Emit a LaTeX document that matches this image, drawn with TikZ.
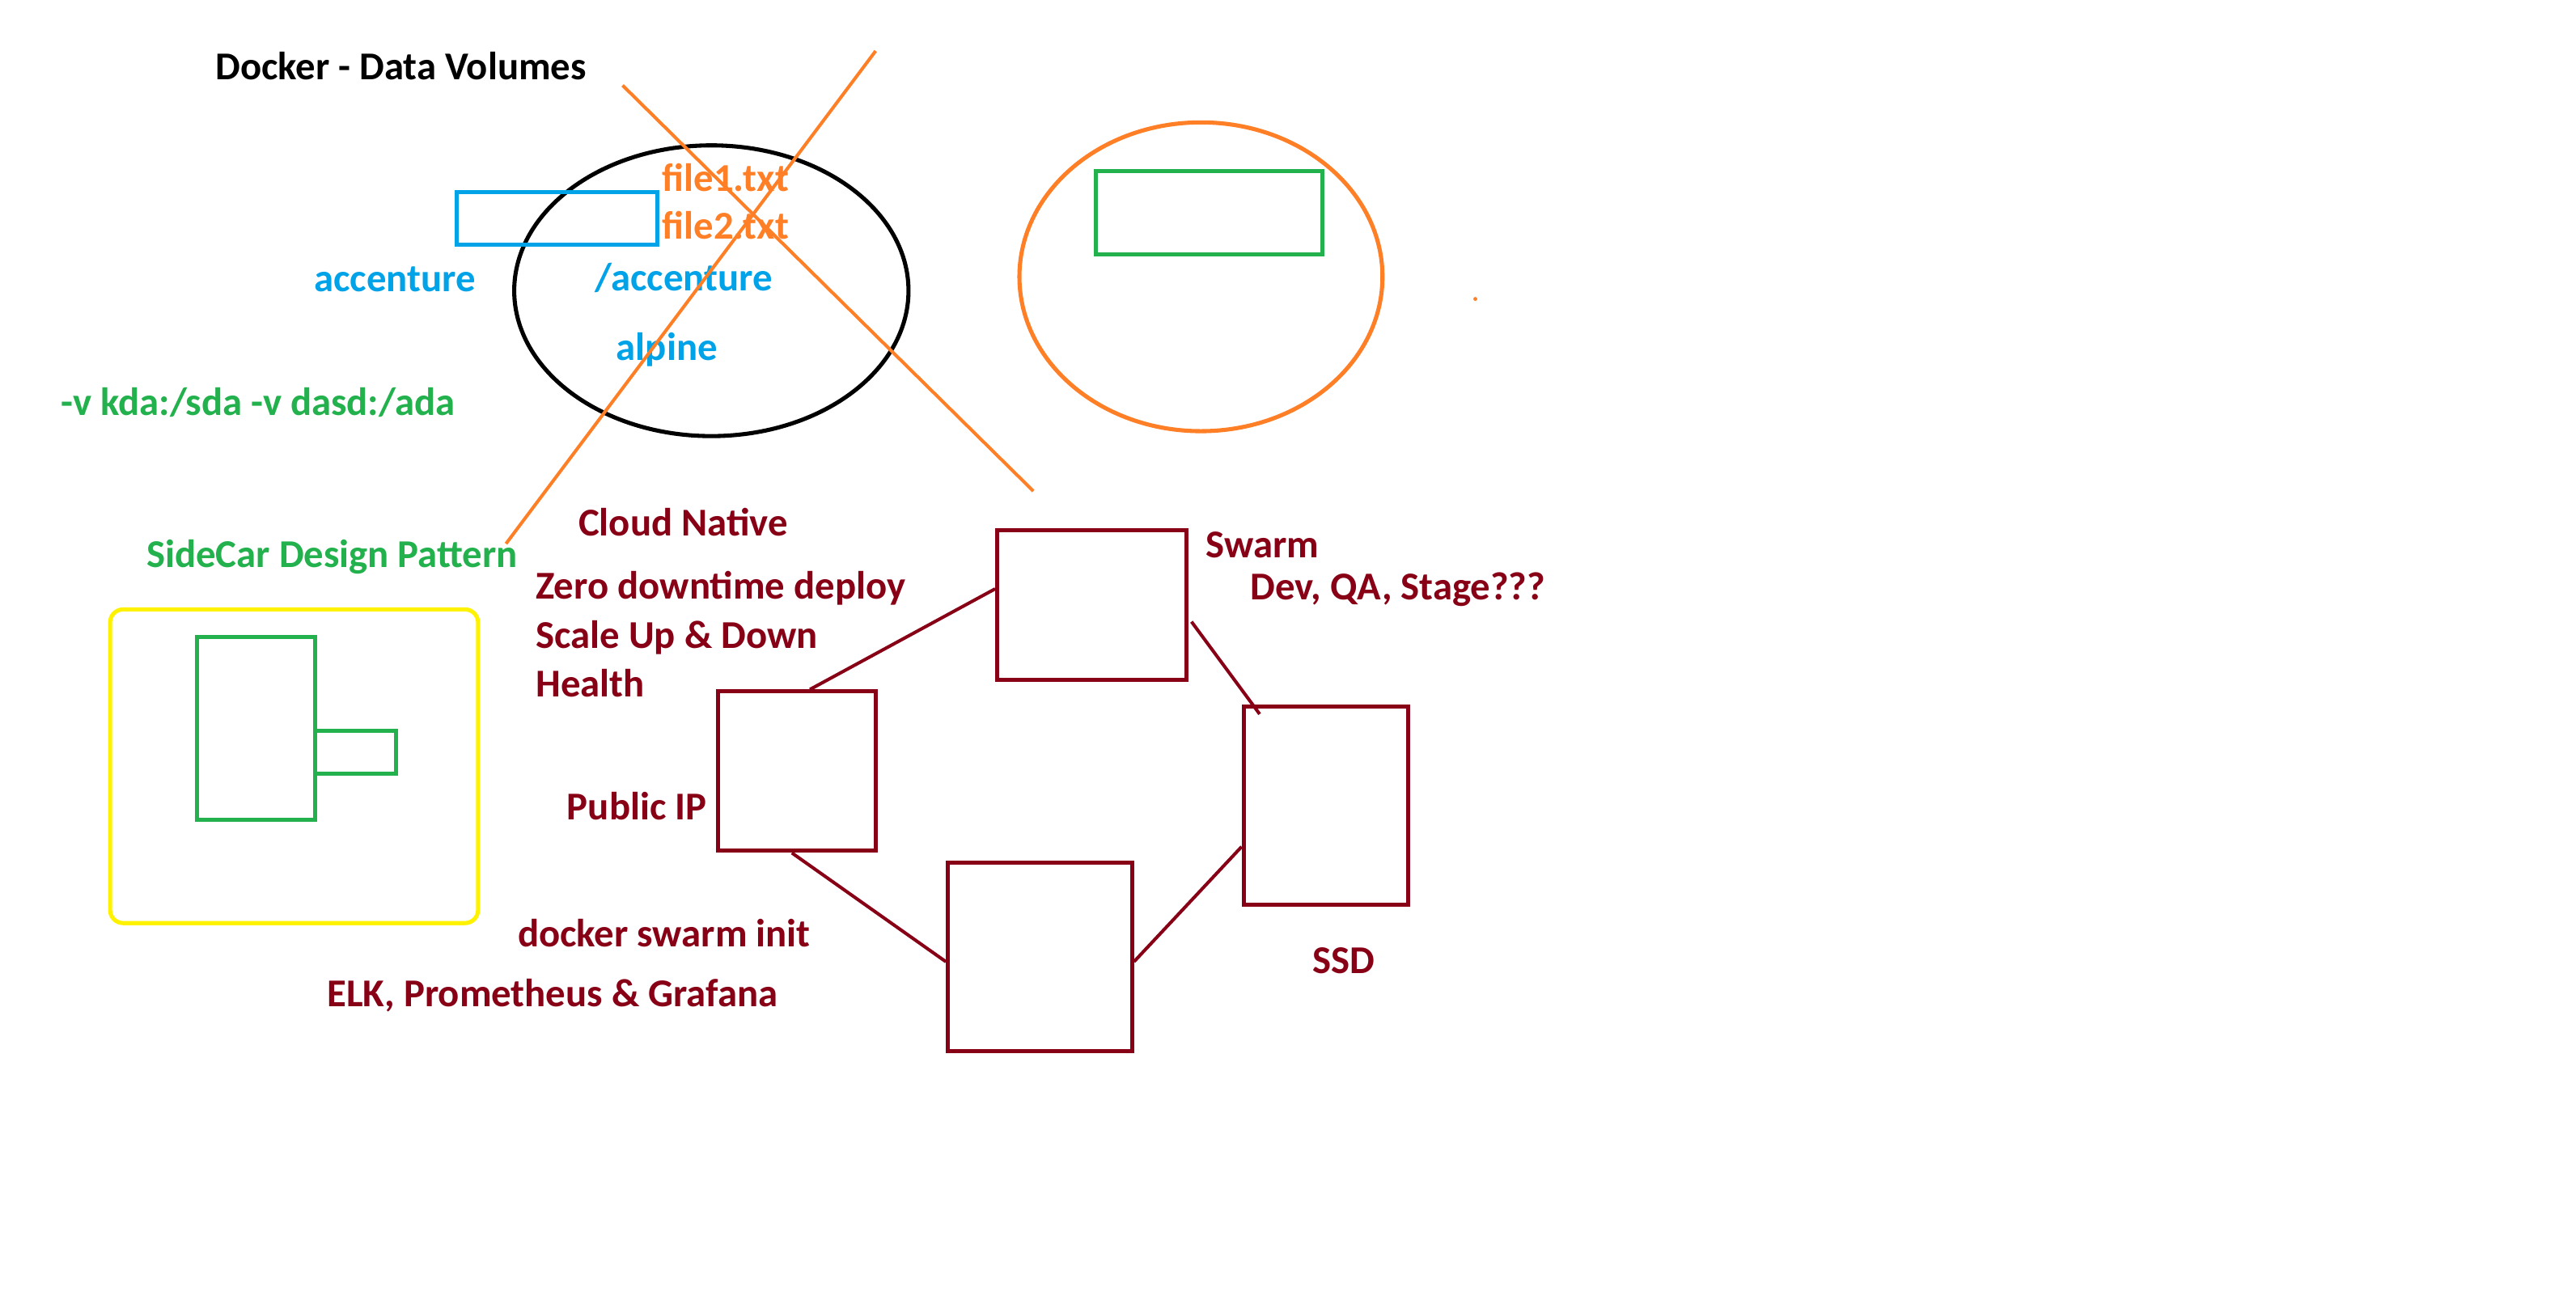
\documentclass[tikz,border=0pt]{standalone}
\usepackage{fontspec}
\setmainfont{Carlito}
\usepackage{tikz}
\usetikzlibrary{shapes.geometric}
\definecolor{paintred}{RGB}{136,0,21}
\definecolor{paintblue}{RGB}{0,162,232}
\definecolor{paintgreen}{RGB}{34,177,76}
\definecolor{paintorange}{RGB}{255,127,39}
\definecolor{paintyellow}{RGB}{255,242,0}

\begin{document}
\begin{tikzpicture}[x=1pt,y=-1pt]
\tikzstyle{every node}+=[inner sep=0pt]
\tikzstyle{lbl}=[anchor=west, font=\fontsize{24}{28}\selectfont\bfseries]
\tikzstyle{box}=[draw=paintred, line width=2.5pt]
\tikzstyle{link}=[paintred, line width=2pt]
\fill [white] (0,0) rectangle (1568,788);
\useasboundingbox (0,0) rectangle (1568,788);
% data volumes
\node [lbl, black] (title) at (131,40) {Docker - Data Volumes};
\node [ellipse, draw=black, line width=2.5pt, minimum width=240pt, minimum height=177pt] (cont) at (433,177) {};
\node [draw=paintblue, line width=2.5pt, minimum width=122pt, minimum height=32pt] (mount) at (339,133) {};
\node [lbl, paintorange] (file1) at (403,108) {file1.txt};
\node [lbl, paintorange] (file2) at (403,137) {file2.txt};
\node [lbl, paintblue] (host) at (191,170) {accenture};
\node [lbl, paintblue] (path) at (362,169) {/accenture};
\node [lbl, paintblue] (alpine) at (375,213) {alpine};
\node [lbl, paintgreen] (flags) at (37,245) {-v kda:/sda -v dasd:/ada};
\coordinate (xa) at (379,52);
\coordinate (xb) at (629,299);
\coordinate (xc) at (533,31);
\coordinate (xd) at (308,331);
\draw [paintorange, line width=2pt] (xa) -- (xb);
\draw [paintorange, line width=2pt] (xc) -- (xd);
\node [ellipse, draw=paintorange, line width=2.5pt, minimum width=221pt, minimum height=188pt] (vol) at (731,168.5) {};
\node [draw=paintgreen, line width=2.5pt, minimum width=138pt, minimum height=51pt] (volbox) at (736,129.5) {};
\fill [paintorange] (898,182) circle (1.2);
% sidecar
\node [lbl, paintgreen] (sidecar) at (89,339) {SideCar Design Pattern};
\node [draw=paintyellow, line width=2.5pt, rounded corners=8pt, minimum width=224pt, minimum height=191pt] (pod) at (179,466.5) {};
\node [draw=paintgreen, line width=2.5pt, minimum width=72pt, minimum height=111pt] (app) at (156,443.5) {};
\node [draw=paintgreen, line width=2.5pt, minimum width=49pt, minimum height=26pt] (car) at (216.5,458) {};
% swarm
\node [lbl, paintred] (cloud) at (352,318) {Cloud Native};
\node [lbl, paintred] (zero) at (326,358) {Zero downtime deploy};
\node [lbl, paintred] (scale) at (326,388) {Scale Up \& Down};
\node [lbl, paintred] (health) at (326,416) {Health};
\node [box, minimum width=115pt, minimum height=91pt] (top) at (664.5,368.5) {};
\node [box, minimum width=96pt, minimum height=97pt] (left) at (485,469.5) {};
\node [box, minimum width=100pt, minimum height=121pt] (right) at (807,490.5) {};
\node [box, minimum width=112pt, minimum height=115pt] (bottom) at (633,582.5) {};
\node [lbl, paintred] (swarm) at (734,332) {Swarm};
\node [lbl, paintred] (envs) at (761,359) {Dev, QA, Stage???};
\node [lbl, paintred] (pubip) at (345,491) {Public IP};
\node [lbl, paintred] (ssd) at (799,585) {SSD};
\node [lbl, paintred] (init) at (315,568) {docker swarm init};
\node [lbl, paintred] (elk) at (199,606) {ELK, Prometheus \& Grafana};
\draw [link] ([xshift=8pt]left.north) -- ([yshift=10pt]top.west);
\draw [link] ([xshift=2pt,yshift=-10pt]top.east) -- ([xshift=11pt,yshift=-6pt]right.north west);
\draw [link] ([xshift=-3pt]left.south) -- ([yshift=-3pt]bottom.west);
\draw [link] ([yshift=-3pt]bottom.east) -- ([yshift=-25pt]right.west);
\end{tikzpicture}
\end{document}
